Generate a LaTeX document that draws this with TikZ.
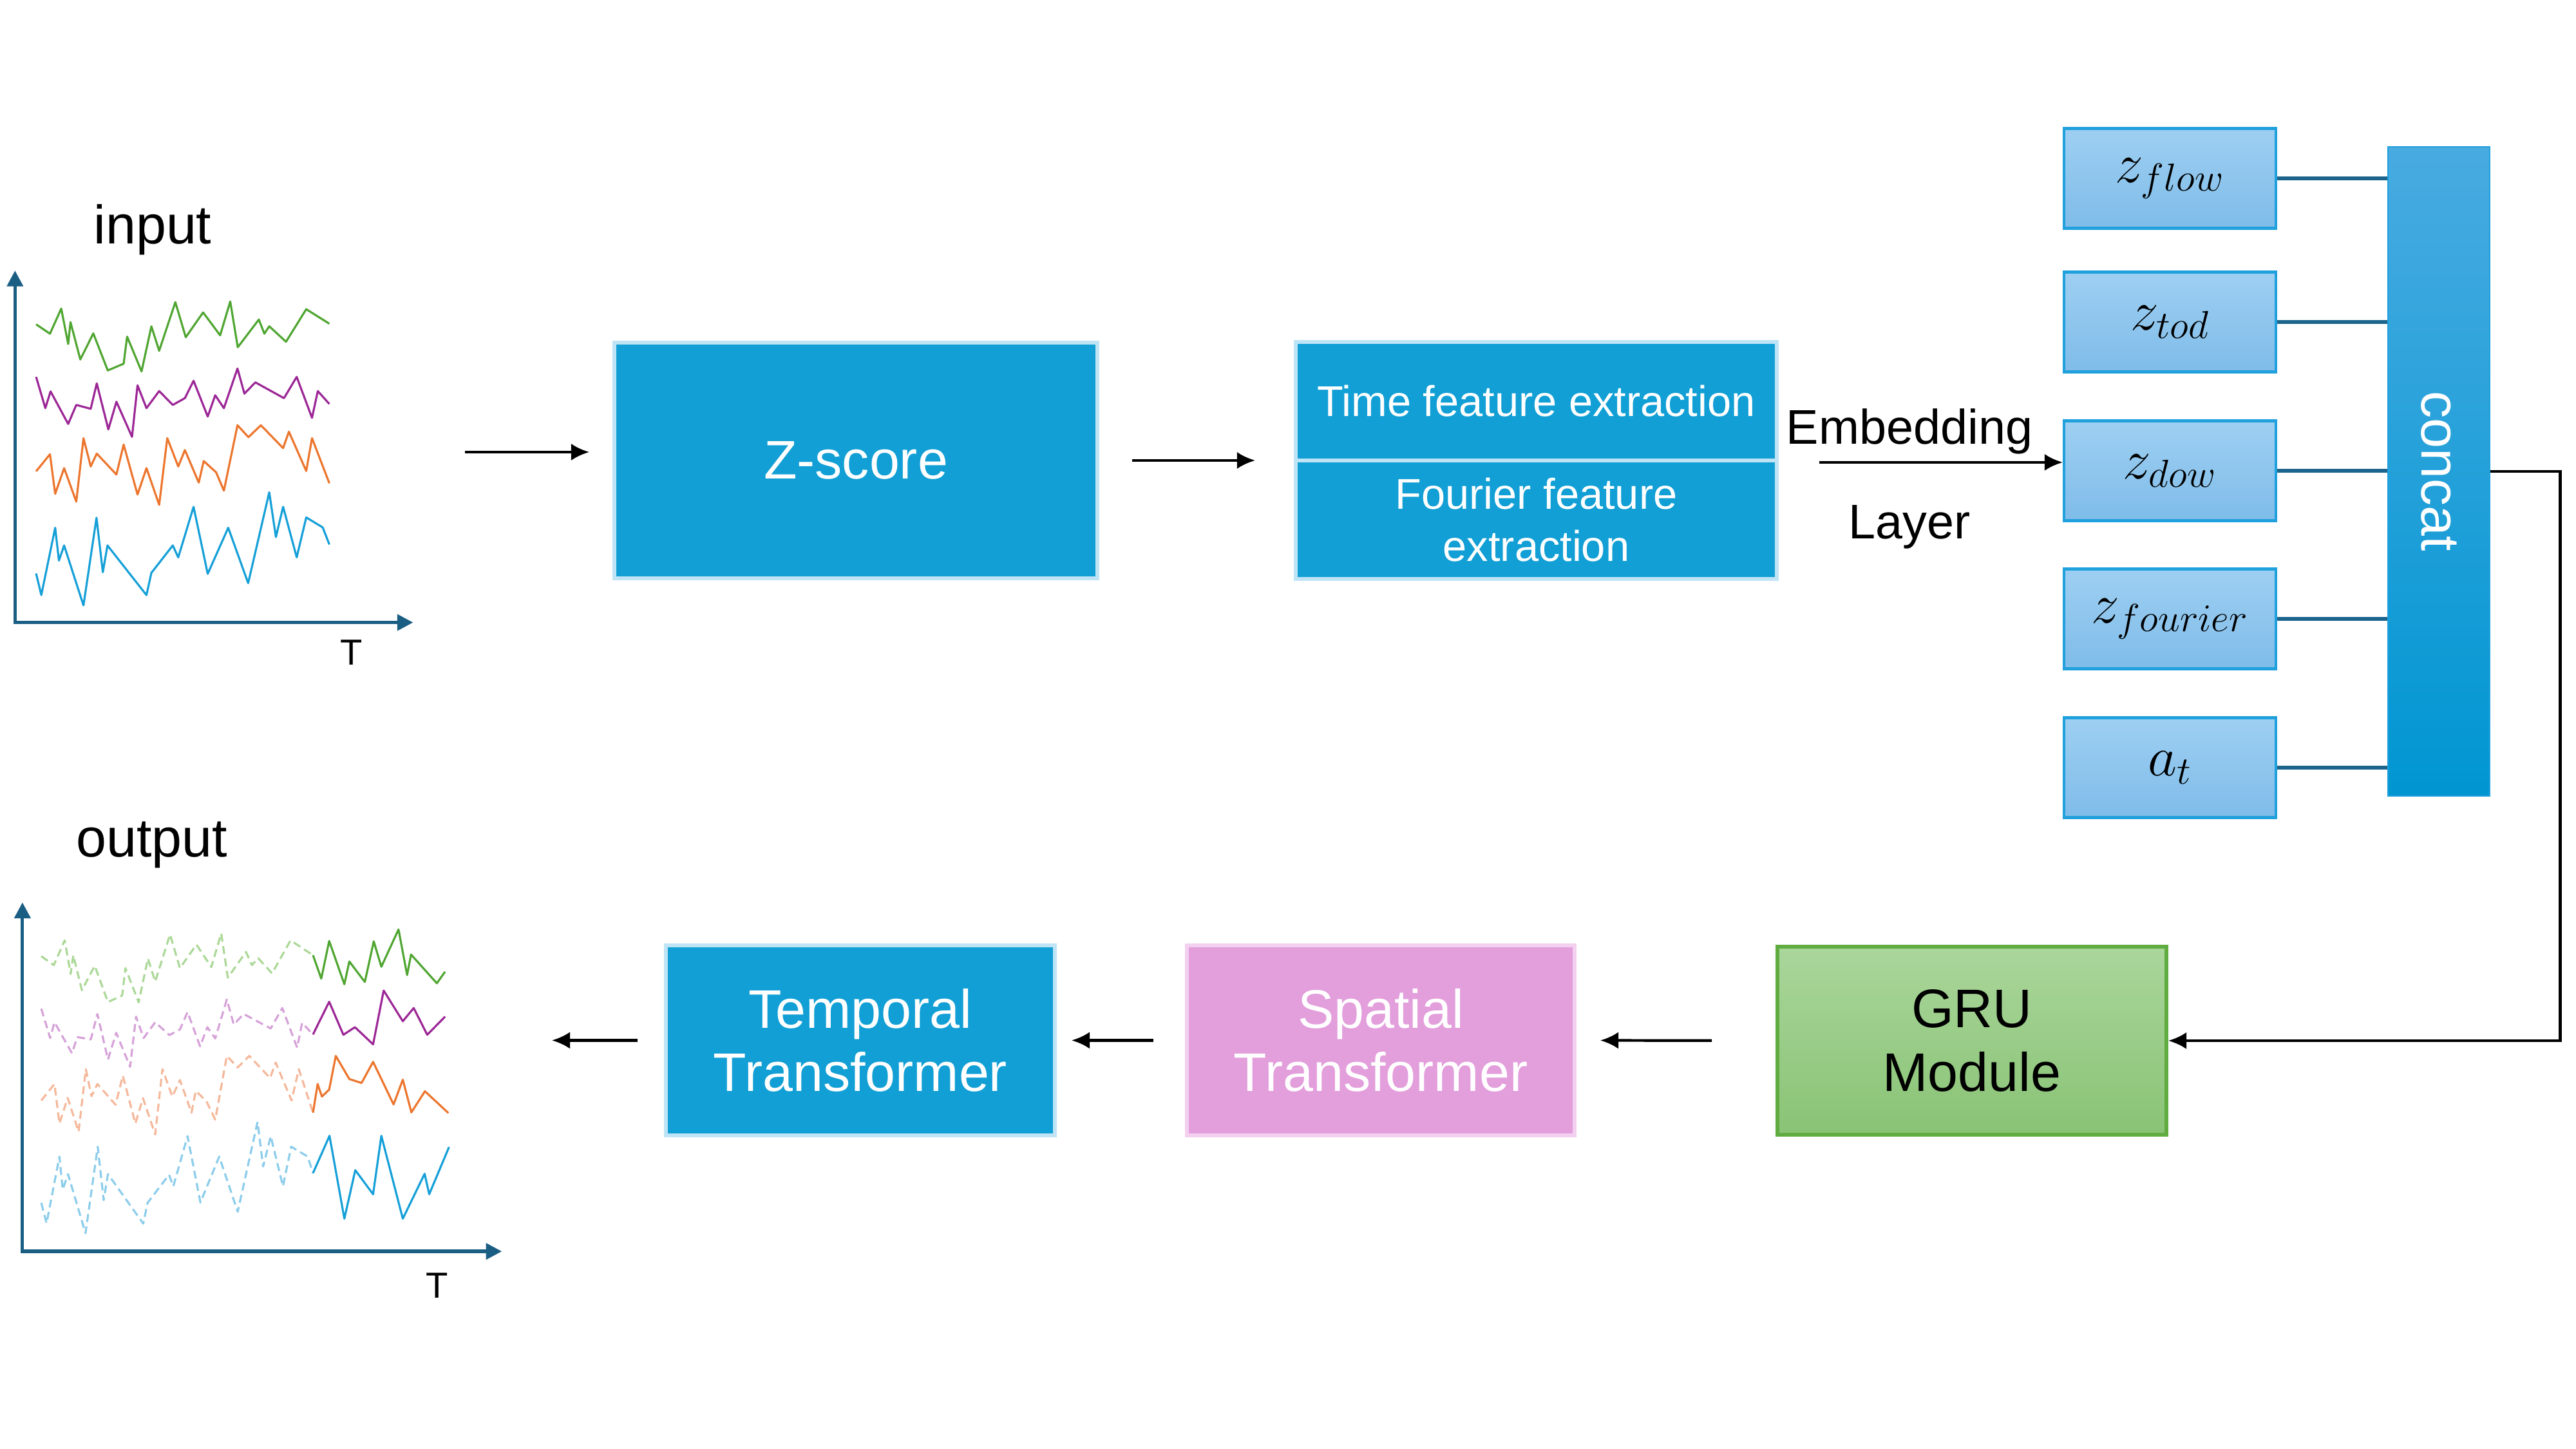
\documentclass[tikz,border=0pt]{standalone}
\usepackage{fontspec}
\setmainfont{Liberation Sans}
\usetikzlibrary{arrows.meta,positioning}

\definecolor{boxblue}{RGB}{17,159,213}
\definecolor{boxblueedge}{RGB}{190,228,245}
\definecolor{pinkfill}{RGB}{227,158,220}
\definecolor{pinkedge}{RGB}{243,208,239}
\definecolor{grutop}{RGB}{170,214,155}
\definecolor{grubot}{RGB}{137,195,117}
\definecolor{gruedge}{RGB}{96,172,64}
\definecolor{ztop}{RGB}{158,207,242}
\definecolor{zbot}{RGB}{127,188,233}
\definecolor{zedge}{RGB}{32,160,220}
\definecolor{cattop}{RGB}{72,171,225}
\definecolor{catbot}{RGB}{0,150,210}
\definecolor{zlinecol}{RGB}{28,100,140}
\definecolor{axiscol}{RGB}{27,94,132}
\definecolor{sgreen}{RGB}{80,166,50}
\definecolor{spurple}{RGB}{156,39,150}
\definecolor{sorange}{RGB}{236,118,46}
\definecolor{sblue}{RGB}{22,160,216}
\definecolor{lgreen}{RGB}{172,216,152}
\definecolor{lpurple}{RGB}{214,162,216}
\definecolor{lorange}{RGB}{245,184,155}
\definecolor{lblue}{RGB}{140,205,235}

\tikzstyle{edge} = [draw,line width=1.2pt,-{Latex[length=8pt,width=7.5pt]}]
\tikzstyle{zline} = [draw,zlinecol,line width=1.6pt]
\tikzstyle{axis} = [draw,axiscol,line width=1.5pt,{Triangle[length=7pt,width=7pt]}-{Triangle[length=7pt,width=7pt]}]
\tikzstyle{serie} = [line width=0.9pt,line join=round]
\tikzstyle{fut} = [line width=0.9pt,line join=round,dash pattern=on 3.5pt off 2pt]
\tikzstyle{big} = [font=\fontsize{24}{28}\selectfont]
\tikzstyle{mid} = [font=\fontsize{19}{23}\selectfont]
\tikzstyle{bluebox} = [rectangle,fill=boxblue,draw=boxblueedge,line width=1.7pt,text=white,align=center]
\tikzstyle{zbox} = [rectangle,top color=ztop,bottom color=zbot,draw=zedge,line width=1.2pt,inner sep=0pt,minimum width=3.29cm,minimum height=1.55cm,font=\fontsize{26}{30}\selectfont]

\begin{document}
\begin{tikzpicture}
\useasboundingbox (0,0) rectangle (40,22.5);

% input series
\node[big] (intxt) at (2.37,18.93) {input};
\node[font=\fontsize{16}{19}\selectfont] (inT) at (5.46,12.37) {T};
\begin{scope}[shift={(0cm,19.7cm)},x=0.00448cm,y=-0.005cm]
\draw[axis] (52,280) -- (52,1372) -- (1430,1372);
\draw[serie,sgreen] plot coordinates {(125,447) (173,476) (212,398) (236,508) (244,440) (278,556) (323,475) (373,590) (428,569) (440,485) (490,593) (524,453) (551,529) (607,378) (643,487) (703,410) (762,481) (797,376) (823,518) (896,432) (915,476) (932,453) (990,501) (1060,400) (1140,445)};
\draw[serie,spurple] plot coordinates {(125,610) (157,707) (175,655) (236,756) (264,697) (314,709) (335,630) (375,773) (403,687) (457,796) (476,636) (507,707) (551,654) (598,697) (640,676) (670,622) (719,733) (745,667) (775,707) (822,584) (846,662) (884,627) (983,676) (1027,610) (1080,737) (1100,654) (1140,694)};
\draw[serie,sorange] plot coordinates {(125,903) (173,850) (191,973) (222,893) (264,997) (289,800) (314,888) (335,848) (403,913) (428,820) (476,975) (507,893) (551,1007) (579,800) (617,888) (640,837) (688,938) (705,871) (748,906) (775,963) (822,760) (860,797) (903,760) (980,831) (1000,780) (1060,902) (1080,800) (1140,940)};
\draw[serie,sblue] plot coordinates {(125,1220) (143,1287) (191,1078) (204,1180) (222,1133) (289,1319) (334,1047) (356,1216) (372,1133) (507,1287) (524,1218) (598,1133) (617,1170) (670,1013) (719,1221) (790,1078) (859,1250) (932,968) (955,1107) (980,1013) (1027,1170) (1060,1046) (1117,1077) (1140,1130)};
\end{scope}

% output series
\node[big] (outtxt) at (2.36,9.38) {output};
\node[font=\fontsize{16}{19}\selectfont] (outT) at (6.79,2.54) {T};
\begin{scope}[shift={(0cm,10cm)},x=0.00513cm,y=-0.00513cm]
\draw[axis] (68,295) -- (68,1352) -- (1520,1352);
\draw[fut,lgreen] plot coordinates {(125,458) (163,485) (196,410) (214,512) (222,455) (248,561) (287,487) (327,597) (370,577) (380,494) (420,598) (448,465) (470,535) (515,392) (545,494) (595,423) (640,491) (670,389) (690,523) (745,445) (763,485) (782,464) (824,510) (880,410) (948,455)};
\draw[serie,sgreen] plot coordinates {(948,455) (973,526) (997,412) (1043,543) (1058,474) (1105,536) (1132,413) (1155,490) (1207,377) (1233,515) (1245,453) (1323,540) (1348,505)};
\draw[fut,lpurple] plot coordinates {(125,617) (152,706) (165,658) (218,752) (234,703) (275,710) (295,633) (327,771) (352,690) (394,793) (412,641) (435,706) (470,658) (513,697) (545,680) (568,627) (606,731) (628,673) (652,707) (687,589) (708,665) (738,633) (820,677) (855,615) (900,735) (915,660) (948,695)};
\draw[serie,spurple] plot coordinates {(948,695) (997,596) (1040,696) (1075,673) (1130,725) (1162,562) (1220,655) (1253,615) (1294,696) (1348,641)};
\draw[fut,lorange] plot coordinates {(125,895) (165,845) (180,965) (205,887) (238,990) (260,800) (277,882) (295,845) (350,908) (372,820) (410,965) (433,888) (470,998) (492,800) (522,883) (545,833) (580,932) (593,866) (625,897) (652,953) (687,760) (720,795) (755,760) (818,827) (835,780) (883,895) (905,800) (948,932)};
\draw[serie,sorange] plot coordinates {(948,932) (962,845) (975,883) (997,862) (1017,760) (1058,830) (1095,842) (1130,778) (1192,907) (1220,832) (1246,931) (1287,867) (1358,933)};
\draw[fut,lblue] plot coordinates {(125,1205) (141,1267) (180,1065) (190,1165) (206,1118) (259,1297) (296,1035) (314,1197) (327,1118) (434,1268) (447,1205) (512,1120) (525,1155) (568,1003) (607,1204) (664,1065) (720,1232) (780,960) (797,1095) (820,1003) (857,1155) (882,1035) (932,1065) (948,1115)};
\draw[serie,sblue] plot coordinates {(948,1115) (998,1002) (1043,1253) (1076,1106) (1130,1179) (1155,1002) (1220,1253) (1286,1117) (1300,1179) (1360,1036)};
\end{scope}

% upper row
\node[bluebox,big,minimum width=7.5cm,minimum height=3.66cm] (zscore) at (13.29,15.35) {Z-score};
\node[bluebox,mid,minimum width=7.47cm,minimum height=1.84cm] (timebox) at (23.855,16.27) {Time feature extraction};
\node[bluebox,mid,minimum width=7.47cm,minimum height=1.84cm] (fourierbox) at (23.855,14.43) {Fourier feature\\extraction};

\node[zbox] (zflow) at (33.695,19.73) {$z_{flow}$};
\node[zbox] (ztod) at (33.695,17.50) {$z_{tod}$};
\node[zbox] (zdow) at (33.695,15.19) {$z_{dow}$};
\node[zbox] (zfourier) at (33.695,12.89) {$z_{fourier}$};
\node[zbox] (za) at (33.695,10.58) {$a_t$};

\node[rectangle,top color=cattop,bottom color=catbot,draw=zedge,line width=0.8pt,minimum width=1.58cm,minimum height=10.08cm,
  label={[rotate=-90,text=white,big]center:concat}] (concat) at (37.87,15.18) {};

\node[font=\fontsize{21.5}{25}\selectfont] (embtxt) at (29.65,15.80) {Embedding};
\node[font=\fontsize{21.5}{25}\selectfont] (laytxt) at (29.65,14.32) {Layer};

% lower row
\node[rectangle,top color=grutop,bottom color=grubot,draw=gruedge,line width=1.7pt,align=center,big,minimum width=6.04cm,minimum height=2.92cm] (gru) at (30.62,6.34) {GRU\\Module};
\node[rectangle,fill=pinkfill,draw=pinkedge,line width=1.7pt,text=white,align=center,big,minimum width=6.02cm,minimum height=2.95cm] (spatial) at (21.44,6.345) {Spatial\\Transformer};
\node[bluebox,big,minimum width=6.04cm,minimum height=2.95cm] (temporal) at (13.36,6.345) {Temporal\\Transformer};

\coordinate (inarr) at (7.22,15.48);
\coordinate (outarr) at (8.57,6.345);

\path[edge,shorten >=0.36cm] (inarr) -- (inarr -| zscore.west);
\path[edge,shorten <=0.51cm,shorten >=0.60cm] (zscore.east) -- (zscore.east -| timebox.west);
\path[edge,shorten <=0.63cm] (timebox.south east) -- (timebox.south east -| zdow.west);

\foreach \src in {zflow,ztod,zdow,zfourier,za}
  \path[zline] (\src.east) -- (\src.east -| concat.west);

\path[edge] (concat.east) -- ++(1.08,0) |- (gru.east);
\path[edge,shorten <=0.99cm,shorten >=0.37cm] (gru.west) -- (spatial.east);
\path[edge,shorten <=0.49cm,shorten >=0.23cm] (spatial.west) -- (temporal.east);
\path[edge,shorten <=0.41cm] (temporal.west) -- (outarr);
\end{tikzpicture}
\end{document}
